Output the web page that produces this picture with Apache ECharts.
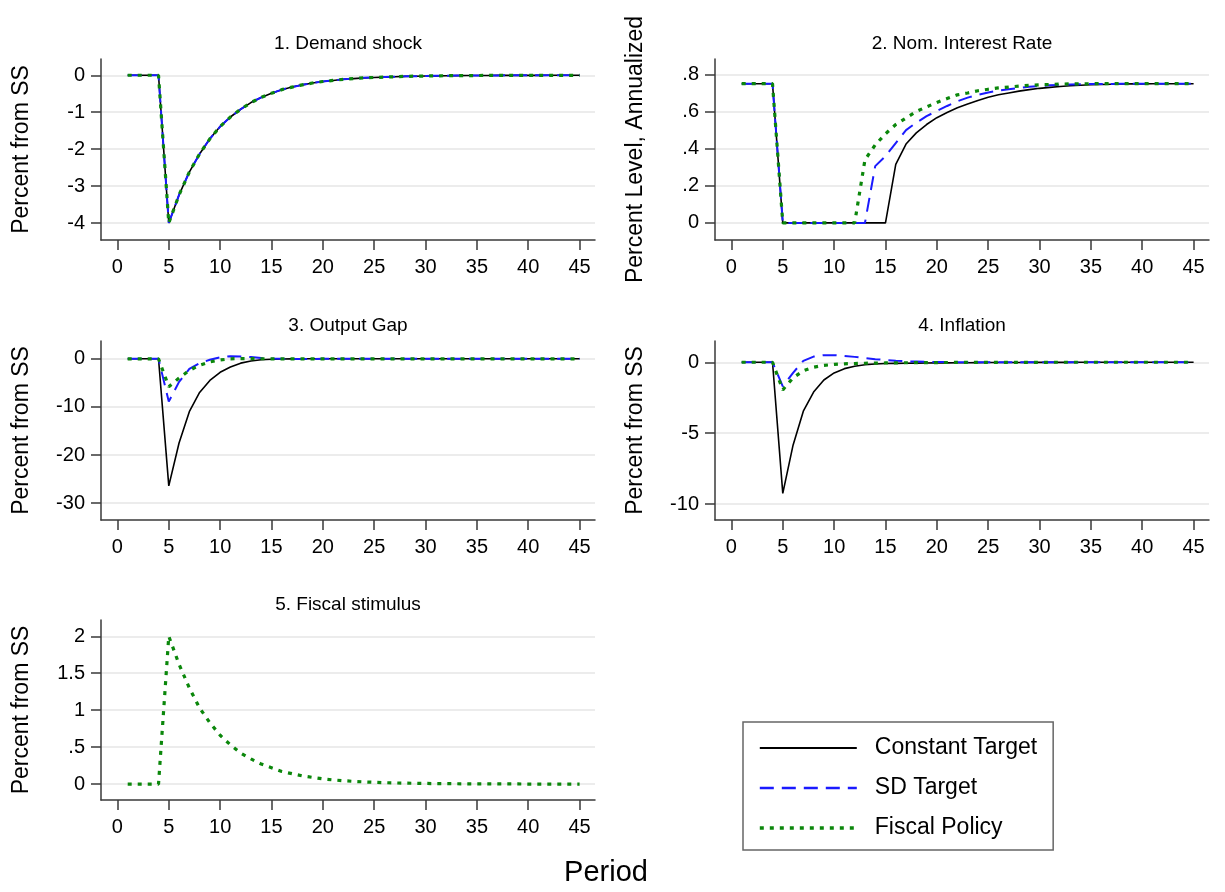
<!DOCTYPE html>
<html>
<head>
<meta charset="utf-8">
<script src="https://cdn.jsdelivr.net/npm/echarts@6/dist/echarts.min.js"></script>
<style>
  html, body { margin: 0; padding: 0; background: #fff; }
  #chart { width: 1225px; height: 892px; }
</style>
</head>
<body>
<div id="chart"></div>
<script>
// periods on the x axis
var periods = [1, 2, 3, 4, 5, 6, 7, 8, 9, 10, 11, 12, 13, 14, 15, 16, 17, 18, 19, 20,
  21, 22, 23, 24, 25, 26, 27, 28, 29, 30, 31, 32, 33, 34, 35, 36, 37, 38, 39, 40,
  41, 42, 43, 44, 45];
var xTicks = [0, 5, 10, 15, 20, 25, 30, 35, 40, 45];

// 1. Demand shock (same path for all three scenarios)
var demandShock = [0, 0, 0, 0, -4, -3.24, -2.62, -2.13, -1.72, -1.39, -1.13, -0.92, -0.74, -0.60,
  -0.49, -0.39, -0.32, -0.26, -0.21, -0.17, -0.14, -0.11, -0.09, -0.07, -0.06, -0.05, -0.04,
  -0.03, -0.025, -0.02, -0.016, -0.013, -0.01, -0.008, -0.007, -0.005, -0.004, -0.003, -0.003,
  -0.002, -0.002, -0.001, -0.001, -0.001, -0.001];

// 2. Nominal interest rate
var rateConst = [.75, .75, .75, .75, 0, 0, 0, 0, 0, 0, 0, 0, 0, 0, 0, .315, .425, .485, .53, .567,
  .595, .62, .64, .66, .677, .69, .70, .71, .718, .725, .73, .735, .739, .742, .744, .746, .747,
  .748, .749, .749, .75, .75, .75, .75, .75];
var rateSD = [.75, .75, .75, .75, 0, 0, 0, 0, 0, 0, 0, 0, 0, .306, .36, .43, .50, .54, .575, .603,
  .63, .655, .675, .69, .703, .713, .72, .727, .733, .738, .741, .744, .746, .747, .748, .749,
  .749, .75, .75, .75, .75, .75, .75, .75, .75];
var rateFiscal = [.75, .75, .75, .75, 0, 0, 0, 0, 0, 0, 0, 0, .34, .42, .48, .53, .565, .60, .625,
  .649, .67, .69, .70, .712, .72, .727, .732, .737, .741, .744, .746, .748, .749, .749, .75, .75,
  .75, .75, .75, .75, .75, .75, .75, .75, .75];

// 3. Output gap
var gapConst = [0, 0, 0, 0, -26.4, -17.5, -11, -7, -4.5, -2.8, -1.7, -0.9, -0.45, -0.2, -0.1,
  -0.05, -0.02, 0, 0, 0, 0, 0, 0, 0, 0, 0, 0, 0, 0, 0, 0, 0, 0, 0, 0, 0, 0, 0, 0, 0, 0, 0, 0, 0, 0];
var gapSD = [0, 0, 0, 0, -8.9, -4.8, -2.1, -0.9, -0.2, 0.3, 0.55, 0.5, 0.35, 0.15, 0.05, 0, -0.05,
  -0.05, -0.03, 0, 0, 0, 0, 0, 0, 0, 0, 0, 0, 0, 0, 0, 0, 0, 0, 0, 0, 0, 0, 0, 0, 0, 0, 0, 0];
var gapFiscal = [0, 0, 0, 0, -5.8, -4.0, -2.4, -1.35, -0.65, -0.25, 0, 0.05, 0.05, 0.02, 0, 0, 0,
  0, 0, 0, 0, 0, 0, 0, 0, 0, 0, 0, 0, 0, 0, 0, 0, 0, 0, 0, 0, 0, 0, 0, 0, 0, 0, 0, 0];

// 4. Inflation
var inflConst = [0, 0, 0, 0, -9.25, -5.85, -3.45, -2.1, -1.25, -0.75, -0.45, -0.28, -0.17, -0.12,
  -0.09, -0.08, -0.07, -0.06, -0.05, -0.045, -0.04, -0.035, -0.03, -0.026, -0.022, -0.019,
  -0.016, -0.013, -0.011, -0.009, -0.007, -0.006, -0.005, -0.004, -0.003, -0.002, -0.002,
  -0.001, -0.001, 0, 0, 0, 0, 0, 0];
var inflSD = [0, 0, 0, 0, -1.7, -0.75, 0.1, 0.4, 0.5, 0.5, 0.45, 0.38, 0.3, 0.22, 0.16, 0.11,
  0.07, 0.05, 0.03, 0.02, 0.01, 0, 0, 0, 0, 0, 0, 0, 0, 0, 0, 0, 0, 0, 0, 0, 0, 0, 0, 0, 0, 0, 0, 0, 0];
var inflFiscal = [0, 0, 0, 0, -1.95, -1.1, -0.6, -0.35, -0.22, -0.15, -0.11, -0.09, -0.07, -0.06,
  -0.05, -0.04, -0.035, -0.03, -0.025, -0.02, -0.017, -0.014, -0.012, -0.01, -0.008, -0.006,
  -0.005, -0.004, -0.003, -0.002, -0.001, 0, 0, 0, 0, 0, 0, 0, 0, 0, 0, 0, 0, 0, 0];

// 5. Fiscal stimulus
var stimulus = [0, 0, 0, 0, 2.0, 1.62, 1.3, 1.03, 0.83, 0.66, 0.53, 0.42, 0.34, 0.27, 0.22, 0.17,
  0.14, 0.11, 0.09, 0.07, 0.056, 0.045, 0.036, 0.029, 0.023, 0.018, 0.015, 0.012, 0.01, 0.008,
  0.006, 0.005, 0.004, 0.003, 0.002, 0.002, 0.001, 0.001, 0.001, 0, 0, 0, 0, 0, 0];

var panelTitles = ['1. Demand shock', '2. Nom. Interest Rate', '3. Output Gap', '4. Inflation', '5. Fiscal stimulus'];
var yNames = ['Percent from SS', 'Percent Level, Annualized', 'Percent from SS', 'Percent from SS', 'Percent from SS'];
var yTicks = [
  [-4, -3, -2, -1, 0],
  [0, 0.2, 0.4, 0.6, 0.8],
  [-30, -20, -10, 0],
  [-10, -5, 0],
  [0, 0.5, 1, 1.5, 2]
];
var yRanges = [[-4.46, 0.44], [-0.092, 0.883], [-33.5, 3.7], [-11.13, 1.5], [-0.216, 2.22]];
var xRange = [-1.6, 46.5];
var legendNames = ['Constant Target', 'SD Target', 'Fiscal Policy'];

var FONT = '"Liberation Sans", Arial, Helvetica, sans-serif';
var grids = [
  { left: 101, top: 59, width: 494, height: 181 },
  { left: 715, top: 59, width: 494, height: 181 },
  { left: 101, top: 341, width: 494, height: 179 },
  { left: 715, top: 341, width: 494, height: 179 },
  { left: 101, top: 620, width: 494, height: 180 }
];

var styles = {
  'Constant Target': { color: '#000000', width: 1.6, type: 'solid' },
  'SD Target': { color: '#1a1aff', width: 2, type: [14, 8] },
  'Fiscal Policy': { color: '#0b870b', width: 3.2, type: [4, 6] }
};

function stata(v) {
  return String(Math.round(v * 1000) / 1000).replace(/^(-?)0\./, '$1.');
}

var axisLine = { show: true, onZero: false, lineStyle: { color: '#3a3a3a', width: 1.5 } };
var axisTick = { show: true, inside: false, length: 10, lineStyle: { color: '#3a3a3a', width: 1.5 } };

var xAxes = grids.map(function (g, i) {
  return {
    type: 'value', gridIndex: i, min: xRange[0], max: xRange[1],
    axisLine: axisLine,
    axisTick: Object.assign({ customValues: xTicks }, axisTick),
    axisLabel: { customValues: xTicks, margin: 17, fontSize: 20, color: '#000', fontFamily: FONT },
    splitLine: { show: false }
  };
});
var yAxes = grids.map(function (g, i) {
  return {
    type: 'value', gridIndex: i, min: yRanges[i][0], max: yRanges[i][1],
    name: yNames[i], nameLocation: 'middle', nameGap: 68,
    nameTextStyle: { fontSize: 23, color: '#000', fontFamily: FONT },
    axisLine: axisLine,
    axisTick: Object.assign({ customValues: yTicks[i] }, axisTick),
    axisLabel: { customValues: yTicks[i], margin: 16, fontSize: 20, color: '#000', fontFamily: FONT, formatter: stata },
    splitLine: { show: true, lineStyle: { color: '#e6e6e6', width: 1.5 } }
  };
});

function line(name, idx, values) {
  var s = styles[name];
  return {
    type: 'line', name: name, xAxisIndex: idx, yAxisIndex: idx,
    data: periods.map(function (p, k) { return [p, values[k]]; }),
    symbol: 'none', showSymbol: false, silent: true,
    lineStyle: { color: s.color, width: s.width, type: s.type },
    itemStyle: { color: s.color }
  };
}

var series = [
  line('Constant Target', 0, demandShock), line('SD Target', 0, demandShock), line('Fiscal Policy', 0, demandShock),
  line('Constant Target', 1, rateConst), line('SD Target', 1, rateSD), line('Fiscal Policy', 1, rateFiscal),
  line('Constant Target', 2, gapConst), line('SD Target', 2, gapSD), line('Fiscal Policy', 2, gapFiscal),
  line('Constant Target', 3, inflConst), line('SD Target', 3, inflSD), line('Fiscal Policy', 3, inflFiscal),
  line('Fiscal Policy', 4, stimulus)
];

var titles = panelTitles.map(function (t, i) {
  return {
    text: t, left: grids[i].left + grids[i].width / 2, top: grids[i].top - 25, textAlign: 'center', padding: 0,
    textStyle: { fontSize: 19, fontWeight: 'normal', color: '#000', fontFamily: FONT }
  };
});
titles.push({
  text: 'Period', left: 606, top: 858, textAlign: 'center', padding: 0,
  textStyle: { fontSize: 29, fontWeight: 'normal', color: '#000', fontFamily: FONT }
});

var chart = echarts.init(document.getElementById('chart'), null, { renderer: 'canvas' });
chart.setOption({
  animation: false,
  backgroundColor: '#fff',
  title: titles,
  grid: grids,
  xAxis: xAxes,
  yAxis: yAxes,
  legend: {
    data: legendNames.map(function (n) {
      var s = styles[n];
      return { name: n, lineStyle: { color: s.color, width: s.width + 0.4, type: s.type } };
    }),
    orient: 'vertical', left: 743, top: 722,
    padding: [14, 16, 10, 15],
    itemWidth: 97, itemHeight: 24, itemGap: 16,
    borderColor: '#666', borderWidth: 1.5,
    selectedMode: false,
    itemStyle: { color: 'rgba(0,0,0,0)', opacity: 0, borderWidth: 0 },
    textStyle: { fontSize: 23, color: '#000', fontFamily: FONT, lineHeight: 24, padding: [0, 0, 0, 13] }
  },
  series: series
});
</script>
</body>
</html>
